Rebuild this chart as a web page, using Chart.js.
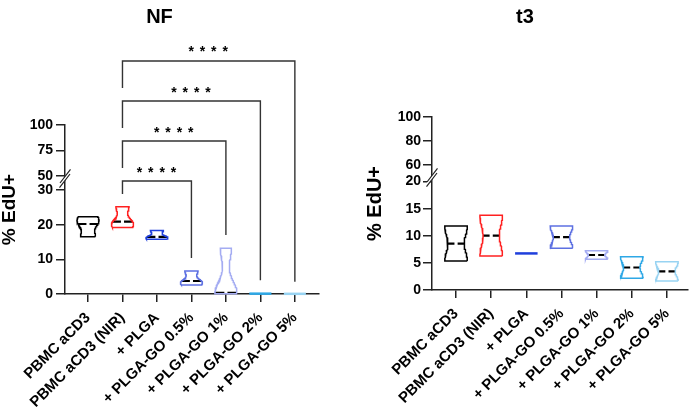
<!DOCTYPE html>
<html><head><meta charset="utf-8">
<script src="https://cdn.jsdelivr.net/npm/chart.js@4.4.1/dist/chart.umd.min.js"></script>
<style>
html,body{margin:0;padding:0;background:#fff;overflow:hidden;width:694px;height:407px;position:relative;}
canvas{position:absolute;top:0;}
#cNF{left:0;}
#cT3{left:362px;}
</style></head><body>
<canvas id="cNF" width="356" height="407"></canvas>
<canvas id="cT3" width="416" height="407"></canvas>
<script>
// ---------------- data ----------------
const categories = ['PBMC aCD3','PBMC aCD3 (NIR)','+ PLGA','+ PLGA-GO 0.5%','+ PLGA-GO 1%','+ PLGA-GO 2%','+ PLGA-GO 5%'];
const groupColors = ['#000000','#ff2020','#1f3fdc','#5d70e2','#a4acf2','#2ea8e6','#98d3f2'];
// NF panel: replicate values (% EdU+)
const nfValues = [
  [16.5, 20.2, 22.3],
  [19.2, 20.9, 25.2],
  [15.8, 16.5, 18.3],
  [2.6, 3.75, 6.6],
  [0.05, 0.3, 13.2],
  [0.1, 0.1, 0.1],
  [0.05, 0.05, 0.05]
];
// t3 panel: replicate values (% EdU+)
const t3Values = [
  [5.35, 11.8],
  [6.27, 13.8],
  [6.75, 6.75],
  [7.7, 11.8],
  [5.66, 7.25],
  [2.15, 6.15],
  [1.65, 5.2]
];
const nfUpperTicks = [50, 75, 100];
const nfLowerTicks = [0, 10, 20, 30];
const t3UpperTicks = [60, 80, 100];
const t3LowerTicks = [0, 5, 10, 15, 20];
const nfComparisons = [
  {from: 1, to: 3, label: '****'},
  {from: 1, to: 4, label: '****'},
  {from: 1, to: 5, label: '****'},
  {from: 1, to: 6, label: '****'}
];
// ---------------- layout (positions, not data) ----------------
const bracketTop = [45, 84.3, 123.5, 162.8];      // on upper-segment axis units
const bracketLeftEnd = [32.3, 57.8, 97, 136.3];   // upper-segment axis units
const bracketRightEnd = [10.4, 17, 4.0, 3.5];     // lower-segment axis units

const FONT = '"Liberation Sans", Arial, Helvetica, sans-serif';
const AX = '#222';

function buildViolins(groups, halfW, gapW) {
  const ds = [];
  groups.forEach((vals, i) => {
    const col = groupColors[i];
    const lo = Math.min(...vals), hi = Math.max(...vals);
    const sorted = [...vals].sort((a, b) => a - b);
    const n = sorted.length;
    const med = n % 2 ? sorted[(n - 1) / 2] : (sorted[n / 2 - 1] + sorted[n / 2]) / 2;
    if (hi - lo < 1e-9) {
      ds.push({data: [{x: i - halfW, y: lo}, {x: i + halfW, y: lo}], borderColor: col, borderWidth: 2.5});
      return;
    }
    const mean = vals.reduce((a, b) => a + b, 0) / n;
    const sd = Math.sqrt(vals.reduce((a, v) => a + (v - mean) ** 2, 0) / (n - 1));
    const bw = 0.5 * sd;
    const dens = y => vals.reduce((a, v) => a + Math.exp(-((y - v) ** 2) / (2 * bw * bw)), 0);
    const N = 80, ys = [];
    for (let k = 0; k <= N; k++) ys.push(lo + (hi - lo) * k / N);
    const d = ys.map(dens);
    const m = Math.max(...d);
    const right = ys.map((y, k) => ({x: i + halfW * d[k] / m, y}));
    const left = ys.map((y, k) => ({x: i - halfW * d[k] / m, y})).reverse();
    ds.push({data: [...right, ...left, right[0]], borderColor: col, borderWidth: 1.5});
    const wm = halfW * dens(med) / m;
    ds.push({data: [{x: i - wm, y: med}, {x: i - gapW, y: med}, {x: i, y: null}, {x: i + gapW, y: med}, {x: i + wm, y: med}],
             borderColor: '#000', borderWidth: 2.2, spanGaps: false});
  });
  return ds.map(d => Object.assign({type: 'line', yAxisID: 'yLow', pointRadius: 0, pointHoverRadius: 0,
    fill: false, tension: 0, clip: false, borderJoinStyle: 'miter'}, d));
}

const breakPlugin = {
  id: 'axisBreak',
  afterDraw(chart) {
    const up = chart.scales.yUp, low = chart.scales.yLow;
    const cx = chart.chartArea.left, cy = (up.bottom + low.top) / 2 - 1;
    const ctx = chart.ctx;
    ctx.save();
    ctx.fillStyle = '#fff';
    ctx.beginPath();
    ctx.moveTo(cx - 5, cy + 8.5); ctx.lineTo(cx + 5, cy - 4.5);
    ctx.lineTo(cx + 5, cy - 8.5); ctx.lineTo(cx - 5, cy + 4.5);
    ctx.closePath(); ctx.fill();
    ctx.strokeStyle = AX; ctx.lineWidth = 1.2;
    ctx.beginPath();
    ctx.moveTo(cx - 5.5, cy + 9.2); ctx.lineTo(cx + 5, cy - 4.5);
    ctx.moveTo(cx - 5, cy + 4.5); ctx.lineTo(cx + 5.5, cy - 9.2);
    ctx.stroke();
    ctx.restore();
  }
};

const sigPlugin = {
  id: 'sigBrackets',
  afterDatasetsDraw(chart, args, opts) {
    if (!opts || !opts.items) return;
    const ctx = chart.ctx, x = chart.scales.x, yu = chart.scales.yUp, yl = chart.scales.yLow;
    ctx.save();
    ctx.strokeStyle = '#333'; ctx.lineWidth = 1.4;
    ctx.fillStyle = '#000';
    ctx.font = 'bold 14px ' + FONT;
    ctx.textAlign = 'center'; ctx.textBaseline = 'alphabetic';
    try { ctx.letterSpacing = '1px'; } catch (e) {}
    opts.items.forEach((b, k) => {
      const x1 = x.getPixelForValue(b.from), x2 = x.getPixelForValue(b.to);
      const yt = yu.getPixelForValue(bracketTop[k]);
      const yle = yu.getPixelForValue(bracketLeftEnd[k]);
      const yre = yl.getPixelForValue(bracketRightEnd[k]);
      ctx.beginPath();
      ctx.moveTo(x1, yle); ctx.lineTo(x1, yt); ctx.lineTo(x2, yt); ctx.lineTo(x2, yre);
      ctx.stroke();
      ctx.fillText(b.label.split('').join(' '), (x1 + x2) / 2, yt - 4.5);
    });
    ctx.restore();
  }
};

function makeChart(id, cfg) {
  const tickFont = {family: FONT, size: 14, weight: 'bold'};
  const yCommon = (extra) => Object.assign({
    position: 'left',
    ticks: {color: '#000', font: tickFont, padding: cfg.yPad},
    grid: {drawOnChartArea: false, drawTicks: true, tickLength: 9, color: AX, lineWidth: 1.5},
    border: {display: true, color: AX, width: 1.5},
    afterFit: s => { s.width = cfg.stackWidth; }
  }, extra);
  return new Chart(document.getElementById(id), {
    type: 'line',
    data: {datasets: buildViolins(cfg.values, 0.32, 0.045)},
    plugins: [breakPlugin, sigPlugin],
    options: {
      responsive: false, animation: false, devicePixelRatio: 1,
      layout: {padding: {left: 0, right: cfg.padRight, top: 0, bottom: 0}},
      events: [],
      plugins: {
        legend: {display: false}, tooltip: {enabled: false},
        title: {display: true, text: cfg.title, color: '#000',
                font: {family: FONT, size: 20, weight: 'bold', lineHeight: 1.2},
                padding: {top: 5, bottom: cfg.plotTop - 5 - 24}},
        sigBrackets: {items: cfg.brackets}
      },
      scales: {
        x: {
          type: 'linear', min: cfg.xMin, max: cfg.xMax,
          afterBuildTicks: s => { s.ticks = categories.map((c, i) => ({value: i})); },
          afterFit: s => { s.height = 407 - cfg.plotBottom; },
          ticks: {autoSkip: false, maxRotation: 45, minRotation: 45, padding: 7, color: '#000',
                  font: {family: FONT, size: 15, weight: 'bold'},
                  callback: v => categories[v]},
          grid: {drawOnChartArea: false, drawTicks: true, tickLength: 8, color: AX, lineWidth: 1.5},
          border: {display: true, color: AX, width: 1.5}
        },
        yTitle: {
          position: 'left', weight: 3,
          afterFit: s => { s.width = cfg.titleWidth; },
          ticks: {display: false}, grid: {display: false}, border: {display: false},
          title: {display: true, text: '% EdU+', color: '#000',
                  font: {family: FONT, size: cfg.yTitleSize, weight: 'bold', lineHeight: 1},
                  padding: {top: cfg.yTitlePad, bottom: 0}}
        },
        yUp: yCommon({weight: 2, stack: 'seg', stackWeight: cfg.upH, min: cfg.upMin, max: cfg.upMax,
          afterBuildTicks: s => { s.ticks = cfg.upTicks.map(v => ({value: v})); }}),
        yGap: {position: 'left', weight: 1.5, stack: 'seg', stackWeight: cfg.gapH, display: false},
        yLow: yCommon({weight: 1, stack: 'seg', stackWeight: cfg.lowH, min: 0, max: cfg.lowMax,
          afterBuildTicks: s => { s.ticks = cfg.lowTicks.map(v => ({value: v})); }})
      }
    }
  });
}

makeChart('cNF', {
  title: 'NF', values: nfValues, brackets: nfComparisons,
  plotTop: 125, plotBottom: 294, padRight: 356 - 319,
  xMin: -0.667, xMax: 6.7,
  titleWidth: 20, stackWidth: 45, yTitleSize: 19, yTitlePad: 0, yPad: 3,
  upH: 53, gapH: 3, lowH: 113, upMin: 48, upMax: 100, lowMax: 32.6,
  upTicks: nfUpperTicks, lowTicks: nfLowerTicks
});
makeChart('cT3', {
  title: 't3', values: t3Values, brackets: null,
  plotTop: 117, plotBottom: 290, padRight: 416 - 326,
  xMin: -0.684, xMax: 6.6,
  titleWidth: 26, stackWidth: 44, yTitleSize: 20, yTitlePad: 3.5, yPad: 2,
  upH: 60, gapH: 3, lowH: 110, upMin: 50, upMax: 100, lowMax: 20.3,
  upTicks: t3UpperTicks, lowTicks: t3LowerTicks
});
</script>
</body></html>
